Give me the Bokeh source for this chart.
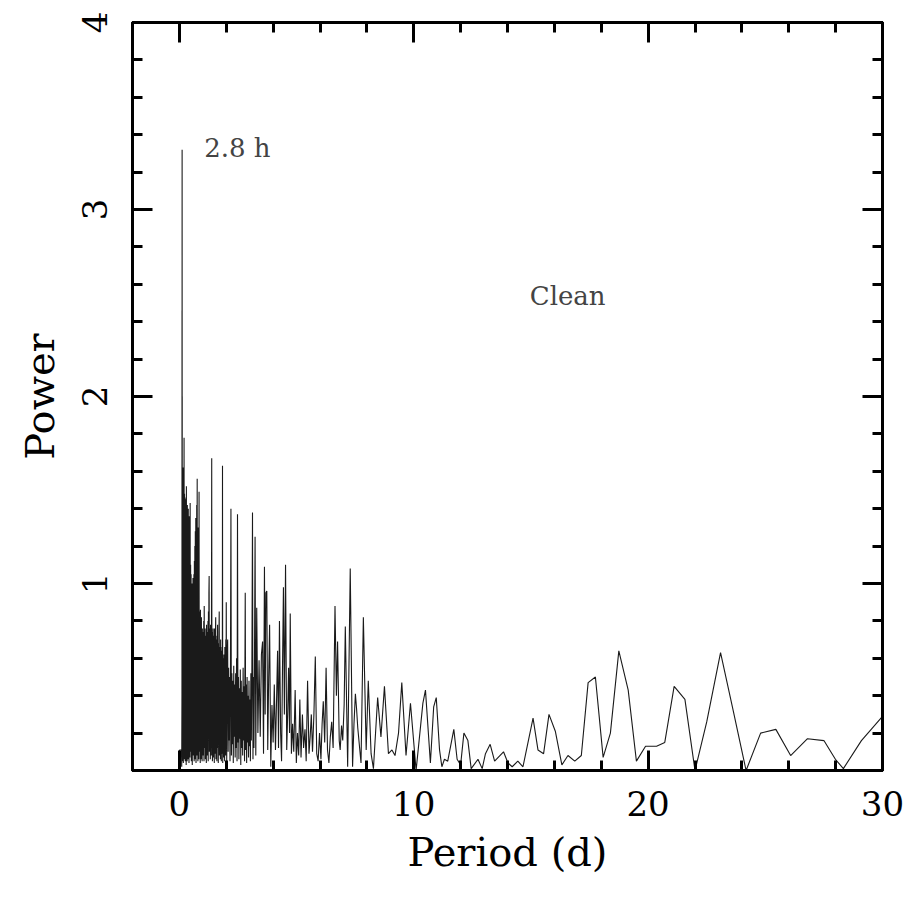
from bokeh.plotting import figure
from bokeh.models import (Range1d, LinearAxis, SingleIntervalTicker, Label, ColumnDataSource,
                          CustomJSTickFormatter)
from bokeh.embed import file_html
from bokeh.resources import INLINE

# ---- data: period (d) and power, in segments ----
peak_period = [0.00, 0.01, 0.09, 0.10, 0.11, 0.113, 0.115, 0.116, 0.117, 0.119, 0.121, 0.124]
peak_power = [0.00, 0.11, 0.11, 0.02, 0.40, 2.46, 0.60, 2.61, 3.32, 1.20, 2.00, 0.30]

short_period = [
    0.13, 0.14, 0.15, 0.16, 0.17, 0.18, 0.19, 0.20, 0.21, 0.22,
    0.23, 0.24, 0.25, 0.26, 0.27, 0.28, 0.29, 0.30, 0.31, 0.32,
    0.33, 0.34, 0.35, 0.36, 0.37, 0.38, 0.39, 0.40, 0.41, 0.42,
    0.43, 0.44, 0.45, 0.46, 0.47, 0.48, 0.49, 0.50, 0.51, 0.52,
    0.53, 0.54, 0.55, 0.56, 0.57, 0.58, 0.59, 0.60, 0.61, 0.62,
    0.63, 0.64, 0.65, 0.66, 0.67, 0.68, 0.69, 0.70, 0.71, 0.72,
    0.73, 0.74, 0.75, 0.76, 0.77, 0.78, 0.79, 0.80, 0.81, 0.82,
    0.83, 0.84, 0.85, 0.86, 0.87, 0.88, 0.89, 0.90, 0.91, 0.92,
    0.93, 0.94, 0.95, 0.96, 0.97, 0.98, 0.99, 1.00,
]
short_power = [
    0.05, 1.45, 0.10, 1.62, 0.04, 1.55, 0.12, 1.78, 0.06, 1.48,
    0.15, 1.45, 0.05, 1.40, 0.10, 1.46, 0.03, 1.52, 0.12, 1.38,
    0.05, 1.42, 0.20, 1.35, 0.06, 1.40, 0.15, 1.30, 0.04, 1.36,
    0.18, 1.25, 0.07, 1.43, 0.10, 1.10, 0.22, 1.05, 0.05, 0.98,
    0.14, 1.00, 0.03, 0.92, 0.20, 1.03, 0.08, 0.95, 0.12, 1.05,
    0.05, 1.12, 0.18, 1.20, 0.06, 1.28, 0.14, 1.35, 0.04, 1.32,
    0.16, 1.42, 0.08, 1.56, 0.12, 1.25, 0.05, 1.30, 0.15, 1.10,
    0.06, 1.49, 0.10, 0.85, 0.20, 0.80, 0.04, 0.86, 0.13, 0.75,
    0.06, 0.82, 0.18, 0.70, 0.05, 0.76, 0.12, 0.72,
]

mid_period = [
    1.01, 1.02, 1.03, 1.04, 1.05, 1.06, 1.07, 1.08, 1.09, 1.10,
    1.11, 1.12, 1.13, 1.14, 1.15, 1.16, 1.17, 1.18, 1.19, 1.20,
    1.21, 1.22, 1.23, 1.24, 1.25, 1.26, 1.27, 1.28, 1.29, 1.30,
    1.31, 1.32, 1.33, 1.34, 1.35, 1.36, 1.37, 1.38, 1.39, 1.40,
    1.41, 1.42, 1.43, 1.44, 1.45, 1.46, 1.47, 1.48, 1.49, 1.50,
    1.51, 1.52, 1.53, 1.54, 1.55, 1.56, 1.57, 1.58, 1.59, 1.60,
    1.61, 1.62, 1.63, 1.64, 1.65, 1.66, 1.67, 1.68, 1.69, 1.70,
    1.71, 1.72, 1.73, 1.74, 1.75, 1.76, 1.77, 1.78, 1.79, 1.80,
    1.81, 1.82, 1.83, 1.84, 1.85, 1.86, 1.87, 1.88, 1.89, 1.90,
    1.91, 1.92, 1.93, 1.94, 1.95, 1.96, 1.97, 1.98, 1.99, 2.00,
    2.02, 2.04, 2.06, 2.08, 2.10, 2.12, 2.14, 2.16, 2.18, 2.20,
    2.22, 2.24, 2.26, 2.28, 2.30, 2.32, 2.34, 2.36, 2.38, 2.40,
    2.42, 2.44, 2.46, 2.48, 2.50, 2.52, 2.54, 2.56, 2.58, 2.60,
    2.62, 2.64, 2.66, 2.68, 2.70, 2.72, 2.74, 2.76, 2.78, 2.81,
    2.83, 2.85, 2.87, 2.89, 2.91, 2.93, 2.95, 2.97, 2.99, 3.01,
    3.03, 3.05, 3.07, 3.09, 3.12, 3.14, 3.16, 3.18, 3.20, 3.23,
    3.26,
]
mid_power = [
    0.08, 0.74, 0.15, 0.80, 0.05, 0.88, 0.12, 0.70, 0.20, 0.76,
    0.06, 0.72, 0.16, 0.68, 0.04, 0.78, 0.22, 0.74, 0.08, 0.70,
    0.14, 0.80, 0.05, 0.85, 0.18, 0.95, 1.04, 0.10, 0.76, 0.20,
    0.72, 0.06, 0.78, 0.15, 0.70, 0.08, 0.80, 1.67, 0.12, 0.74,
    0.05, 0.70, 0.18, 0.76, 0.07, 0.66, 0.14, 0.72, 0.04, 0.76,
    0.20, 0.68, 0.09, 0.74, 0.82, 0.06, 0.70, 0.16, 0.64, 0.05,
    0.72, 0.12, 0.78, 0.18, 0.62, 0.04, 0.68, 0.15, 0.74, 0.85,
    0.08, 0.66, 0.20, 0.62, 0.06, 0.70, 0.13, 0.64, 0.05, 0.58,
    0.17, 0.66, 0.09, 1.63, 0.04, 0.60, 0.15, 0.56, 0.07, 0.62,
    0.19, 0.54, 0.05, 0.66, 0.12, 0.58, 0.08, 0.70, 0.14, 0.90,
    0.04, 0.62, 0.70, 0.10, 0.55, 0.16, 0.50, 0.05, 0.58, 1.40,
    0.08, 0.52, 0.14, 0.48, 0.04, 0.56, 0.18, 0.46, 0.07, 0.52,
    0.12, 0.60, 0.05, 1.37, 0.15, 0.50, 0.06, 0.44, 0.17, 0.54,
    0.03, 0.48, 0.12, 0.42, 0.08, 0.55, 0.16, 0.45, 0.05, 0.95,
    0.11, 0.46, 0.04, 0.50, 0.15, 0.40, 0.07, 0.48, 0.13, 0.38,
    0.05, 0.52, 0.16, 0.44, 1.38, 0.06, 0.50, 0.12, 0.46, 1.25,
    0.08,
]

long_period = [
    3.30, 3.35, 3.40, 3.45, 3.50, 3.55, 3.59, 3.63, 3.66, 3.69,
    3.73, 3.77, 3.81, 3.85, 3.90, 3.95, 4.00, 4.05, 4.10, 4.15,
    4.19, 4.23, 4.27, 4.32, 4.36, 4.40, 4.44, 4.48, 4.53, 4.58,
    4.62, 4.66, 4.70, 4.73, 4.78, 4.83, 4.88, 4.94, 4.99, 5.04,
    5.09, 5.14, 5.19, 5.25, 5.30, 5.36, 5.41, 5.47, 5.53, 5.58,
    5.63, 5.68, 5.74, 5.80, 5.86, 5.92, 5.98, 6.04, 6.09, 6.14,
    6.20, 6.26, 6.32, 6.38, 6.44, 6.50, 6.56, 6.64, 6.70, 6.75,
    6.82, 6.86, 6.92, 6.97, 7.03, 7.08, 7.13, 7.18, 7.29, 7.39,
    7.45, 7.51, 7.56, 7.61, 7.75, 7.85, 7.97, 8.06, 8.18, 8.28,
    8.46, 8.60, 8.75, 8.92, 9.07, 9.20, 9.35, 9.49, 9.67, 9.86,
    10.10, 10.39, 10.50, 10.71, 10.85, 10.96, 11.10, 11.20, 11.31, 11.45,
    11.71, 11.85, 12.00, 12.14, 12.31, 12.45, 12.74, 12.92, 13.06, 13.26,
    13.45, 13.83, 14.02, 14.20, 14.44, 14.66, 15.09, 15.30, 15.54, 15.77,
    16.04, 16.32, 16.58, 16.87, 17.15, 17.44, 17.75, 18.08, 18.39, 18.75,
    19.15, 19.50, 19.89, 20.36, 20.71, 21.11, 21.57, 22.00, 22.50, 23.09,
    23.63, 24.18, 24.80, 25.45, 26.08, 26.80, 27.50, 27.99, 28.33, 29.10,
    30.00,
]
long_power = [
    0.87, 0.20, 0.59, 0.18, 0.62, 0.69, 0.09, 1.09, 0.30, 0.95,
    0.96, 0.11, 0.50, 0.78, 0.02, 0.35, 0.15, 0.46, 0.11, 0.40,
    0.64, 0.12, 0.80, 0.20, 0.05, 0.55, 0.98, 0.30, 1.10, 0.11,
    0.30, 0.55, 0.20, 0.84, 0.09, 0.25, 0.10, 0.43, 0.04, 0.20,
    0.08, 0.38, 0.07, 0.30, 0.12, 0.22, 0.05, 0.48, 0.09, 0.18,
    0.30, 0.10, 0.30, 0.61, 0.09, 0.05, 0.20, 0.06, 0.25, 0.37,
    0.15, 0.55, 0.11, 0.04, 0.18, 0.26, 0.12, 0.88, 0.40, 0.69,
    0.16, 0.11, 0.24, 0.16, 0.35, 0.77, 0.40, 0.02, 1.08, 0.02,
    0.25, 0.41, 0.33, 0.23, 0.04, 0.82, 0.11, 0.48, 0.09, 0.01,
    0.39, 0.18, 0.45, 0.09, 0.11, 0.08, 0.20, 0.47, 0.08, 0.36,
    0.00, 0.36, 0.43, 0.04, 0.34, 0.39, 0.11, 0.02, 0.06, 0.05,
    0.22, 0.06, 0.03, 0.20, 0.16, 0.01, 0.06, 0.01, 0.09, 0.14,
    0.05, 0.10, 0.04, 0.02, 0.05, 0.02, 0.28, 0.11, 0.09, 0.30,
    0.21, 0.03, 0.08, 0.05, 0.08, 0.47, 0.50, 0.07, 0.20, 0.64,
    0.43, 0.05, 0.13, 0.13, 0.15, 0.45, 0.38, 0.00, 0.26, 0.63,
    0.32, 0.00, 0.20, 0.22, 0.08, 0.17, 0.16, 0.06, 0.01, 0.16,
    0.29,
]

x_ticks_major = 10
y_ticks_major = 1
annot_text = ["2.8 h", "Clean"]
annot_x = [1.06, 14.95]
annot_y = [3.33, 2.54]

period = peak_period + short_period + mid_period + long_period
power = peak_power + short_power + mid_power + long_power

FONT = "DejaVu Serif"

p = figure(frame_width=750, frame_height=748,
           min_border_left=132, min_border_right=26, min_border_top=22, min_border_bottom=132,
           x_range=Range1d(-2, 30), y_range=Range1d(0, 4),
           output_backend="svg", toolbar_location=None,
           x_axis_label="Period (d)", y_axis_label="Power")
p.background_fill_color = "white"
p.border_fill_color = "white"
p.outline_line_color = "black"
p.outline_line_width = 3
p.xgrid.visible = False
p.ygrid.visible = False

bottom = p.below[0]
left = p.left[0]

src = ColumnDataSource(dict(period=period, power=power))
p.line("period", "power", source=src, line_color="#1a1a1a", line_width=1.1)

bottom.ticker = SingleIntervalTicker(interval=x_ticks_major, num_minor_ticks=5)
left.ticker = SingleIntervalTicker(interval=y_ticks_major, num_minor_ticks=5)
left.major_label_overrides = {0: ""}

top = LinearAxis(ticker=SingleIntervalTicker(interval=x_ticks_major, num_minor_ticks=5),
                 formatter=CustomJSTickFormatter(code="return ''"), major_label_standoff=0)
right = LinearAxis(ticker=SingleIntervalTicker(interval=y_ticks_major, num_minor_ticks=5),
                   formatter=CustomJSTickFormatter(code="return ''"), major_label_standoff=0)
p.add_layout(top, "above")
p.add_layout(right, "right")

for ax in [bottom, left, top, right]:
    ax.axis_line_width = 3
    ax.axis_line_color = "black"
    ax.major_tick_in = 20
    ax.major_tick_out = 0
    ax.minor_tick_in = 10
    ax.minor_tick_out = 0
    ax.major_tick_line_width = 3
    ax.minor_tick_line_width = 3
    ax.major_tick_line_color = "black"
    ax.minor_tick_line_color = "black"

for ax in [bottom, left]:
    ax.major_label_text_font = FONT
    ax.major_label_text_font_size = "34px"
    ax.major_label_text_color = "black"
    ax.axis_label_text_font = FONT
    ax.axis_label_text_font_size = "40px"
    ax.axis_label_text_font_style = "normal"
    ax.axis_label_text_color = "black"

bottom.major_label_standoff = 20
bottom.axis_label_standoff = 10
left.major_label_orientation = "vertical"
left.major_label_standoff = 26
left.axis_label_standoff = 16

for t, x, y in zip(annot_text, annot_x, annot_y):
    p.add_layout(Label(x=x, y=y, text=t, text_font=FONT, text_font_size="26px",
                       text_color="#444444", text_baseline="alphabetic"))

open("out.html", "w").write(file_html(p, INLINE))
